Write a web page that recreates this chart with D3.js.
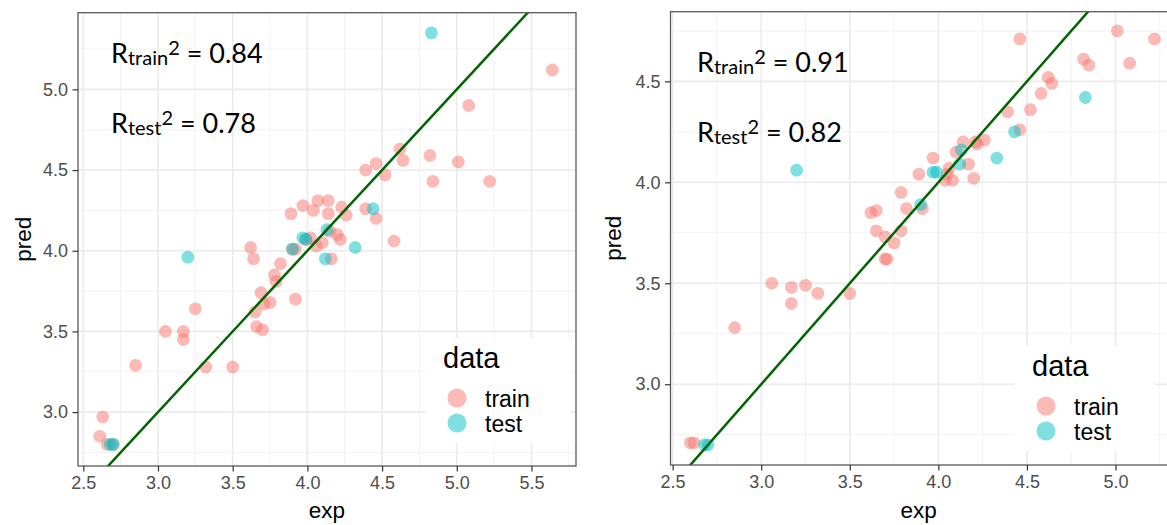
<!DOCTYPE html>
<html>
<head>
<meta charset="utf-8">
<script src="https://cdn.jsdelivr.net/npm/d3@7"></script>
<style>
  body { margin: 0; background: #fff; }
  svg { display: block; }
</style>
</head>
<body>
<div id="chart"></div>
<script>
// ---- data (exp, pred) ----
var leftTrainExp  = [2.61, 2.63, 2.66, 2.70, 2.85, 3.05, 3.17, 3.17, 3.25, 3.32, 3.50, 3.62, 3.64, 3.65, 3.66, 3.69, 3.70, 3.71, 3.75, 3.78, 3.79, 3.82, 3.92, 3.89, 3.90, 3.92, 3.97, 3.99, 4.02, 4.04, 4.06, 4.07, 4.10, 4.14, 4.14, 4.15, 4.16, 4.20, 4.22, 4.23, 4.26, 4.39, 4.39, 4.46, 4.46, 4.52, 4.58, 4.62, 4.64, 4.82, 4.84, 5.01, 5.08, 5.22, 5.64];
var leftTrainPred = [2.85, 2.97, 2.80, 2.80, 3.29, 3.50, 3.50, 3.45, 3.64, 3.28, 3.28, 4.02, 3.95, 3.62, 3.53, 3.74, 3.51, 3.67, 3.68, 3.85, 3.81, 3.92, 3.70, 4.23, 4.01, 4.01, 4.28, 4.07, 4.08, 4.25, 4.03, 4.31, 4.05, 4.31, 4.23, 4.12, 3.95, 4.10, 4.07, 4.27, 4.22, 4.26, 4.50, 4.54, 4.20, 4.47, 4.06, 4.63, 4.56, 4.59, 4.43, 4.55, 4.90, 4.43, 5.12];
var leftTestExp   = [2.68, 2.70, 3.20, 3.90, 3.97, 3.99, 4.12, 4.13, 4.32, 4.44, 4.83];
var leftTestPred  = [2.80, 2.80, 3.96, 4.01, 4.08, 4.07, 3.95, 4.13, 4.02, 4.26, 5.35];

var rightTrainExp  = [2.60, 2.62, 2.85, 3.06, 3.17, 3.17, 3.25, 3.32, 3.50, 3.70, 3.71, 3.62, 3.65, 3.65, 3.70, 3.75, 3.79, 3.79, 3.82, 3.91, 3.89, 3.97, 4.04, 4.08, 4.05, 4.06, 4.10, 4.14, 4.17, 4.20, 4.21, 4.26, 4.22, 4.39, 4.52, 4.46, 4.46, 5.01, 5.22, 4.82, 4.85, 5.08, 4.62, 4.64, 4.58];
var rightTrainPred = [2.71, 2.71, 3.28, 3.50, 3.48, 3.40, 3.49, 3.45, 3.45, 3.62, 3.62, 3.85, 3.86, 3.76, 3.73, 3.70, 3.76, 3.95, 3.87, 3.87, 4.04, 4.12, 4.01, 4.01, 4.04, 4.07, 4.15, 4.20, 4.09, 4.02, 4.20, 4.21, 4.19, 4.35, 4.36, 4.26, 4.71, 4.75, 4.71, 4.61, 4.58, 4.59, 4.52, 4.49, 4.44];
var rightTestExp   = [2.68, 2.70, 3.20, 3.90, 3.97, 3.99, 4.12, 4.13, 4.33, 4.43, 4.83];
var rightTestPred  = [2.70, 2.70, 4.06, 3.89, 4.05, 4.05, 4.09, 4.16, 4.12, 4.25, 4.42];

var groups = ['train', 'test'];
var groupColors = ['#F8766D', '#00BFC4'];
var r2Left  = [0.84, 0.78];
var r2Right = [0.91, 0.82];

// ---- layout ----
var width = 1167, height = 525;
var tickFont = '"Liberation Sans", Arial, sans-serif';
var noteFont = 'Lato, "Open Sans", sans-serif';

var svg = d3.select('#chart').append('svg')
  .attr('width', width)
  .attr('height', height);

// zip two arrays into points
var zip = function(xs, ys) {
  return xs.map(function(x, i) { return {x: x, y: ys[i]}; });
};

// draws one panel
var drawPanel = function(p) {
  var x = d3.scaleLinear().domain(p.xDomain).range([p.left, p.right]);
  var y = d3.scaleLinear().domain(p.yDomain).range([p.bottom, p.top]);
  var g = svg.append('g');

  var clipId = 'clip' + p.id;
  svg.append('clipPath').attr('id', clipId)
    .append('rect')
      .attr('x', p.left).attr('y', p.top)
      .attr('width', p.right - p.left).attr('height', p.bottom - p.top);

  var inX = function(v) { return v >= p.xDomain[0] && v <= p.xDomain[1]; };
  var inY = function(v) { return v >= p.yDomain[0] && v <= p.yDomain[1]; };
  var minorOf = function(ticks) {
    var out = [];
    ticks.forEach(function(t) { out.push(t - 0.25, t + 0.25); });
    return out.filter(function(v, i, a) { return a.indexOf(v) === i; });
  };
  var xMinor = minorOf(p.xTicks).filter(inX);
  var yMinor = minorOf(p.yTicks).filter(inY);

  // background grid
  var grid = g.append('g');
  grid.selectAll('.xm').data(xMinor).enter().append('line')
    .attr('x1', x).attr('x2', x).attr('y1', p.top).attr('y2', p.bottom)
    .attr('stroke', '#F2F2F2').attr('stroke-width', 1);
  grid.selectAll('.ym').data(yMinor).enter().append('line')
    .attr('y1', y).attr('y2', y).attr('x1', p.left).attr('x2', p.right)
    .attr('stroke', '#F2F2F2').attr('stroke-width', 1);
  grid.selectAll('.xM').data(p.xTicks).enter().append('line')
    .attr('x1', x).attr('x2', x).attr('y1', p.top).attr('y2', p.bottom)
    .attr('stroke', '#EBEBEB').attr('stroke-width', 1.6);
  grid.selectAll('.yM').data(p.yTicks).enter().append('line')
    .attr('y1', y).attr('y2', y).attr('x1', p.left).attr('x2', p.right)
    .attr('stroke', '#EBEBEB').attr('stroke-width', 1.6);

  // points
  var pts = g.append('g').attr('clip-path', 'url(#' + clipId + ')');
  p.series.forEach(function(s, k) {
    pts.selectAll('.pt' + k).data(s).enter().append('circle')
      .attr('cx', function(d) { return x(d.x); })
      .attr('cy', function(d) { return y(d.y); })
      .attr('r', 6.4)
      .attr('fill', groupColors[k])
      .attr('fill-opacity', 0.5);
  });

  // identity line
  var lo = Math.min(p.xDomain[0], p.yDomain[0]), hi = Math.max(p.xDomain[1], p.yDomain[1]);
  pts.append('line')
    .attr('x1', x(lo)).attr('y1', y(lo)).attr('x2', x(hi)).attr('y2', y(hi))
    .attr('stroke', '#006400').attr('stroke-width', 2.5);

  // border
  g.append('rect')
    .attr('x', p.left).attr('y', p.top)
    .attr('width', p.right - p.left).attr('height', p.bottom - p.top)
    .attr('fill', 'none').attr('stroke', '#5a5a5a').attr('stroke-width', 1.3);

  // axes
  var fmt = d3.format('.1f');
  var xAxis = g.append('g')
    .attr('transform', 'translate(0,' + p.bottom + ')')
    .call(d3.axisBottom(x).tickValues(p.xTicks).tickFormat(fmt).tickSize(5.5).tickPadding(5));
  var yAxis = g.append('g')
    .attr('transform', 'translate(' + p.left + ',0)')
    .call(d3.axisLeft(y).tickValues(p.yTicks).tickFormat(fmt).tickSize(5.5).tickPadding(4.5));
  [xAxis, yAxis].forEach(function(a) {
    a.select('.domain').remove();
    a.selectAll('line').attr('stroke', '#333').attr('stroke-width', 1.2);
    a.selectAll('text').attr('fill', '#4D4D4D')
      .style('font-family', tickFont).style('font-size', '18px');
  });

  // axis titles
  g.append('text')
    .attr('x', (p.left + Math.min(p.right, width)) / 2).attr('y', 518)
    .attr('text-anchor', 'middle')
    .style('font-family', tickFont).style('font-size', '22.5px')
    .text('exp');
  g.append('text')
    .attr('transform', 'translate(' + p.yTitleX + ',' + ((p.top + p.bottom) / 2) + ') rotate(-90)')
    .attr('text-anchor', 'middle')
    .style('font-family', tickFont).style('font-size', '22.5px')
    .text('pred');

  // legend
  var lg = g.append('g');
  lg.append('rect')
    .attr('x', p.legend.x).attr('y', p.legend.y)
    .attr('width', p.legend.w).attr('height', p.legend.h)
    .attr('fill', '#fff');
  lg.append('text')
    .attr('x', p.legend.x + 17).attr('y', p.legend.y + 30)
    .style('font-family', tickFont).style('font-size', '29px')
    .text('data');
  groups.forEach(function(name, k) {
    var cy = p.legend.y + 60 + k * 25;
    lg.append('circle')
      .attr('cx', p.legend.x + 31).attr('cy', cy).attr('r', 9.5)
      .attr('fill', groupColors[k]).attr('fill-opacity', 0.5);
    lg.append('text')
      .attr('x', p.legend.x + 59).attr('y', cy + 9)
      .style('font-family', tickFont).style('font-size', '23px')
      .text(name);
  });

  // R^2 notes
  ['train', 'test'].forEach(function(sub, k) {
    var t = g.append('text')
      .attr('x', p.note.x).attr('y', p.note.y + k * 69.5)
      .style('font-family', noteFont).style('font-size', '27px').attr('fill', '#000');
    t.append('tspan').text('R');
    t.append('tspan').attr('dy', 2).style('font-size', '20px').text(sub);
    t.append('tspan').attr('dy', -10).style('font-size', '20px').text('2');
    t.append('tspan').attr('dy', 8).text(' = ' + p.r2[k].toFixed(2));
  });
};

drawPanel({
  id: 'L',
  left: 78, right: 576, top: 12.7, bottom: 466,
  xDomain: [2.4645, 5.798], yDomain: [2.666, 5.475],
  xTicks: [2.5, 3.0, 3.5, 4.0, 4.5, 5.0, 5.5],
  yTicks: [3.0, 3.5, 4.0, 4.5, 5.0],
  series: [zip(leftTrainExp, leftTrainPred), zip(leftTestExp, leftTestPred)],
  yTitleX: 31,
  legend: {x: 426, y: 338, w: 144, h: 105},
  note: {x: 111, y: 63},
  r2: r2Left
});

drawPanel({
  id: 'R',
  left: 670.5, right: 1169, top: 11.7, bottom: 465,
  xDomain: [2.488, 5.302], yDomain: [2.60, 4.845],
  xTicks: [2.5, 3.0, 3.5, 4.0, 4.5, 5.0],
  yTicks: [3.0, 3.5, 4.0, 4.5],
  series: [zip(rightTrainExp, rightTrainPred), zip(rightTestExp, rightTestPred)],
  yTitleX: 621,
  legend: {x: 1015, y: 346, w: 140, h: 105},
  note: {x: 697, y: 72},
  r2: r2Right
});
</script>
</body>
</html>
